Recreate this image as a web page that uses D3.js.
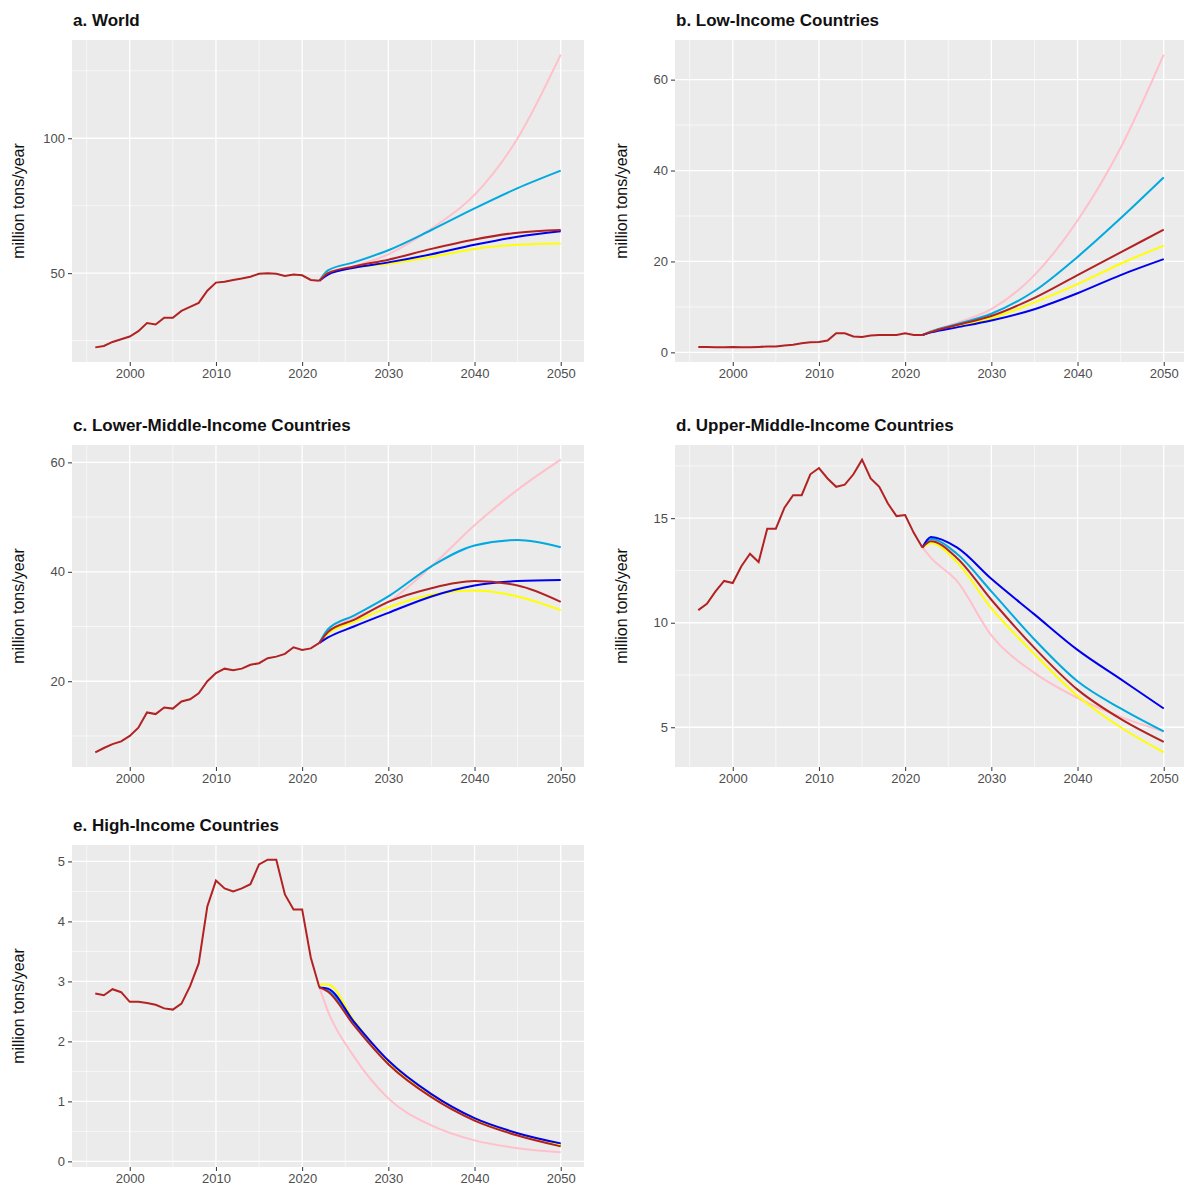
<!DOCTYPE html>
<html><head><meta charset="utf-8">
<script src="https://cdn.jsdelivr.net/npm/d3@7"></script>
<style>body{margin:0;background:#fff}</style>
</head><body>
<svg id="chart" width="1184" height="1189"></svg>
<script>
// historical years 1996-2022
var histYears = d3.range(1996, 2023)
var projYears = [2022, 2023, 2026, 2030, 2035, 2040, 2045, 2050]
var seriesColors = ["pink", "#00A9E0", "yellow", "#0000EE", "firebrick"]

var worldHist = [22.5,23,24.5,25.5,26.5,28.5,31.5,31,33.5,33.5,36,37.5,39,43.5,46.5,46.8,47.5,48,48.7,49.8,50,49.8,49,49.5,49.2,47.5,47.2]
var worldProj = [
  [47.2,49.5,52.5,57,66.5,79,100,131],
  [47.2,51,54,58.5,66,74,81.5,88],
  [47.2,50,52,53.5,56,59,60.5,61],
  [47.2,49.5,52,54,57,60.5,63.5,65.5],
  [47.2,50,52.5,55,59,62.5,65,66]]

var lowHist = [1.2,1.2,1.1,1.1,1.2,1.1,1.1,1.2,1.3,1.3,1.5,1.7,2,2.2,2.3,2.6,4.2,4.2,3.5,3.4,3.7,3.8,3.8,3.8,4.2,3.8,3.8]
var lowProj = [
  [3.8,4.6,6.5,9.5,17,29,45,65.5],
  [3.8,4.6,6.2,8.5,13.5,21,29.5,38.5],
  [3.8,4.5,5.8,7.5,11,15,19.5,23.5],
  [3.8,4.4,5.5,7,9.5,13,17,20.5],
  [3.8,4.5,6,8,12,17,22,27]]

var lmHist = [7,7.8,8.5,9,10,11.5,14.3,14,15.2,15,16.3,16.7,17.8,20,21.5,22.3,22,22.3,23,23.3,24.2,24.5,25,26.2,25.7,26,27]
var lmProj = [
  [27,29,31.5,34.5,41,48.5,55,60.5],
  [27,29.5,32,35.5,41,44.8,45.8,44.5],
  [27,28.7,30.8,33.5,35.8,36.6,35.5,33],
  [27,28,30,32.5,35.5,37.5,38.3,38.5],
  [27,29,31.2,34.5,37,38.3,37.5,34.5]]

var umHist = [10.6,10.9,11.5,12,11.9,12.7,13.3,12.9,14.5,14.5,15.5,16.1,16.1,17.1,17.4,16.9,16.5,16.6,17.1,17.8,16.9,16.5,15.7,15.1,15.15,14.3,13.6]
var umProj = [
  [13.6,13.1,12.0,9.4,7.6,6.4,5.5,4.8],
  [13.6,14.0,13.3,11.5,9.2,7.2,5.9,4.8],
  [13.6,13.8,12.9,10.7,8.5,6.5,5.0,3.8],
  [13.6,14.1,13.6,12.1,10.4,8.7,7.3,5.9],
  [13.6,13.9,13.1,11.1,8.8,6.8,5.4,4.3]]

var highHist = [2.8,2.77,2.87,2.82,2.66,2.66,2.64,2.61,2.55,2.53,2.63,2.92,3.3,4.25,4.68,4.55,4.5,4.55,4.62,4.95,5.03,5.03,4.45,4.2,4.2,3.4,2.9]
var highProj = [
  [2.9,2.5,1.75,1.05,0.6,0.35,0.22,0.15],
  [2.9,2.85,2.3,1.65,1.1,0.7,0.45,0.28],
  [2.95,2.95,2.35,1.65,1.1,0.7,0.45,0.27],
  [2.9,2.88,2.33,1.68,1.12,0.72,0.47,0.3],
  [2.9,2.83,2.27,1.62,1.07,0.68,0.43,0.25]]

var panels = [
  {title: "a. World", hist: worldHist, proj: worldProj, ticks: [50,100], x: 72, y: 40},
  {title: "b. Low-Income Countries", hist: lowHist, proj: lowProj, ticks: [0,20,40,60], x: 675, y: 40},
  {title: "c. Lower-Middle-Income Countries", hist: lmHist, proj: lmProj, ticks: [20,40,60], x: 72, y: 445},
  {title: "d. Upper-Middle-Income Countries", hist: umHist, proj: umProj, ticks: [5,10,15], x: 675, y: 445},
  {title: "e. High-Income Countries", hist: highHist, proj: highProj, ticks: [0,1,2,3,4,5], x: 72, y: 845}
]

var svg = d3.select("#chart")
var pw = 512, ph = 322

panels.forEach(function(p) {
  var g = svg.append("g").attr("transform", `translate(${p.x},${p.y})`)
  var all = p.hist.concat(d3.merge(p.proj))
  var ext = d3.extent(all), pad = (ext[1] - ext[0]) * 0.05
  var x = d3.scaleLinear().domain([1993.3, 2052.7]).range([0, pw])
  var y = d3.scaleLinear().domain([ext[0] - pad, ext[1] + pad]).range([ph, 0])

  g.append("rect").attr("width", pw).attr("height", ph).attr("fill", "#EBEBEB")

  var xt = [2000,2010,2020,2030,2040,2050]
  var xm = [1995,2005,2015,2025,2035,2045]
  var step = p.ticks[1] - p.ticks[0]
  var ym = p.ticks.map(t => t - step / 2).concat([p.ticks[p.ticks.length-1] + step/2])
    .filter(v => v > y.domain()[0] && v < y.domain()[1])

  g.selectAll(".xm").data(xm).join("line").attr("x1", x).attr("x2", x).attr("y1", 0).attr("y2", ph)
    .attr("stroke", "#fff").attr("stroke-width", 0.6)
  g.selectAll(".ymn").data(ym).join("line").attr("y1", y).attr("y2", y).attr("x1", 0).attr("x2", pw)
    .attr("stroke", "#fff").attr("stroke-width", 0.6)
  g.selectAll(".xg").data(xt).join("line").attr("x1", x).attr("x2", x).attr("y1", 0).attr("y2", ph)
    .attr("stroke", "#fff").attr("stroke-width", 1.3)
  g.selectAll(".yg").data(p.ticks).join("line").attr("y1", y).attr("y2", y).attr("x1", 0).attr("x2", pw)
    .attr("stroke", "#fff").attr("stroke-width", 1.3)

  var xAxis = g.append("g").attr("transform", `translate(0,${ph})`)
    .call(d3.axisBottom(x).tickValues(xt).tickFormat(d3.format("d")).tickSize(4).tickPadding(3))
  var yAxis = g.append("g").call(d3.axisLeft(y).tickValues(p.ticks).tickFormat(d3.format("d")).tickSize(4).tickPadding(3))
  ;[xAxis, yAxis].forEach(a => {
    a.select(".domain").remove()
    a.selectAll("line").attr("stroke", "#333")
    a.selectAll("text").attr("fill", "#4D4D4D").style("font", "13px 'Liberation Sans', Arial, sans-serif")
  })

  var line = d3.line().x(d => x(d[0])).y(d => y(d[1])).curve(d3.curveMonotoneX)
  p.proj.forEach(function(s, i) {
    g.append("path").datum(projYears.map((yr, j) => [yr, s[j]]))
      .attr("d", line).attr("fill", "none").attr("stroke", seriesColors[i]).attr("stroke-width", 2)
  })
  g.append("path").datum(histYears.map((yr, j) => [yr, p.hist[j]]))
    .attr("d", d3.line().x(d => x(d[0])).y(d => y(d[1])))
    .attr("fill", "none").attr("stroke", "firebrick").attr("stroke-width", 2)

  svg.append("text").attr("x", p.x + 1).attr("y", p.y - 14).text(p.title)
    .style("font", "bold 17px 'Liberation Sans', Arial, sans-serif").attr("fill", "#111")
  svg.append("text").attr("transform", `translate(${p.x - 48},${p.y + ph / 2}) rotate(-90)`)
    .attr("text-anchor", "middle").text("million tons/year")
    .style("font", "16px 'Liberation Sans', Arial, sans-serif").attr("fill", "#111")
})
</script>
</body></html>
